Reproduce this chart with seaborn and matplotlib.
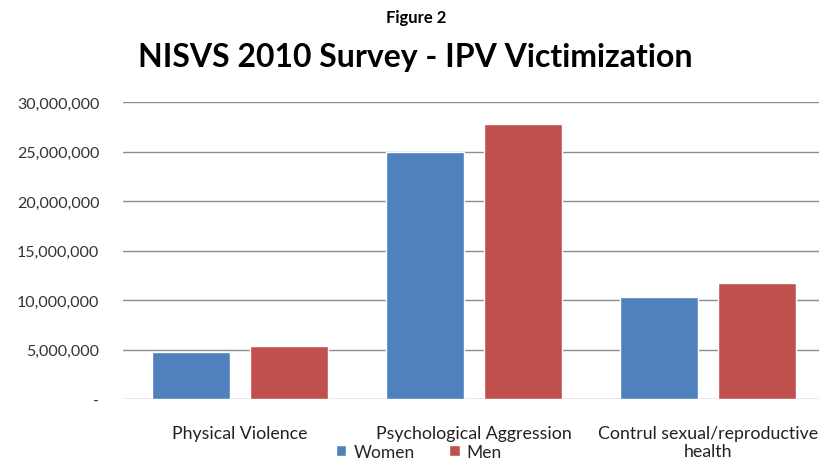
import matplotlib
matplotlib.use("Agg")
import matplotlib.pyplot as plt
import matplotlib.ticker as mticker
import seaborn as sns
import pandas as pd

categories = ["Physical Violence", "Psychological Aggression", "Contrul sexual/reproductive\nhealth"]
women = [4780000, 24950000, 10330000]
men = [5380000, 27800000, 11700000]
series = ["Women", "Men"]
colors = ["#4F81BD", "#C0504D"]
yticks = [0, 5000000, 10000000, 15000000, 20000000, 25000000, 30000000]

df = pd.DataFrame({
    "category": categories * 2,
    "value": women + men,
    "sex": ["Women"] * 3 + ["Men"] * 3,
})

sns.set_theme(style="white")
plt.rcParams["font.family"] = ["Lato", "DejaVu Sans"]

fig = plt.figure(figsize=(8.2, 4.64), dpi=100)
ax = fig.add_axes([123 / 820, 1 - 400 / 464, 702 / 820, 297 / 464])

sns.barplot(data=df, x="category", y="value", hue="sex", hue_order=series,
            palette=colors, width=0.84, gap=0.2, saturation=1, ax=ax,
            legend=True)

ax.set_ylim(0, 30000000)
ax.set_yticks(yticks)
ax.yaxis.set_major_formatter(mticker.FuncFormatter(
    lambda v, p: "-" if v == 0 else f"{int(v):,}"))
ax.grid(axis="y", color="#8c8c8c", linewidth=1)
ax.set_axisbelow(True)
for s in ax.spines.values():
    s.set_visible(False)
ax.set_xlabel("")
ax.set_ylabel("")
ax.tick_params(axis="y", length=0, pad=17, labelsize=11.5, labelcolor="#333333")
ax.tick_params(axis="x", length=0, pad=19, labelsize=12.8, labelcolor="#222222")
for t in ax.get_xticklabels():
    t.set_linespacing(1.15)
    t.set_verticalalignment("top")

handles, labels = ax.get_legend_handles_labels()
ax.get_legend().remove()
fig.legend(handles, labels, loc="center", bbox_to_anchor=(419 / 820, 1 - 453 / 464),
           ncol=2, frameon=False, fontsize=12.5, handlelength=0.6, handleheight=0.6,
           handletextpad=0.4, columnspacing=2.0, borderaxespad=0, borderpad=0)

fig.text(416 / 820, 1 - 18 / 464, "Figure 2", ha="center", va="center",
         fontsize=12, fontweight="bold", color="#000000")
fig.text(415 / 820, 1 - 58 / 464, "NISVS 2010 Survey - IPV Victimization",
         ha="center", va="center", fontsize=23, fontweight="bold", color="#000000")

fig.savefig("out.png", dpi=100)
